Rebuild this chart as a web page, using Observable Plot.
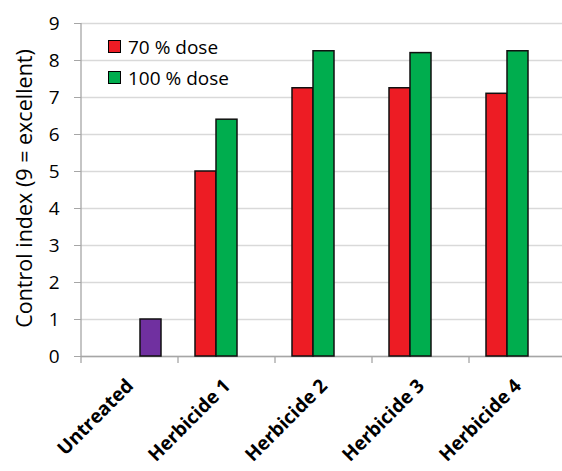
<!DOCTYPE html>
<html><head><meta charset="utf-8">
<script src="https://cdn.jsdelivr.net/npm/d3@7"></script>
<script src="https://cdn.jsdelivr.net/npm/@observablehq/plot@0.6"></script>
<style>
html,body{margin:0;padding:0;background:#fff;overflow:hidden;}
#wrap{position:relative;width:562px;height:471px;overflow:hidden;}
#legend{position:absolute;left:108px;top:31px;font-family:"Open Sans",sans-serif;font-size:19px;color:#000;}
#legend .row{display:flex;align-items:center;height:31px;}
#legend .sw{width:11px;height:11px;border:1px solid #000;margin-right:7px;}
</style></head>
<body><div id="wrap"></div>
<script>
const categories = ["Untreated", "Herbicide 1", "Herbicide 2", "Herbicide 3", "Herbicide 4"];
const series = ["70 % dose", "100 % dose", "Untreated"];
const dose70 = [null, 5.0, 7.25, 7.25, 7.1];
const dose100 = [null, 6.4, 8.25, 8.2, 8.25];
const untreatedVals = [1.0, null, null, null, null];
const colors = ["#ED1C24", "#00AD4E", "#7030A0"];
const yTicks = [0, 1, 2, 3, 4, 5, 6, 7, 8, 9];
const yLabel = "Control index (9 = excellent)";
const legendItems = ["70 % dose", "100 % dose"];

const rows = [];
categories.forEach((c, i) => {
  [dose70[i], dose100[i], untreatedVals[i]].forEach((v, j) => {
    if (v != null) rows.push({category: c, series: series[j], value: v});
  });
});

const plot = Plot.plot({
  width: 568, height: 471,
  marginLeft: 79, marginRight: 0, marginTop: 23, marginBottom: 115,
  style: {fontFamily: "'Open Sans', sans-serif", maxWidth: "none", overflow: "visible", background: "white"},
  fx: {domain: categories, padding: 0, label: null, axis: null},
  x: {domain: series, paddingInner: 0, paddingOuter: 0.75, axis: null},
  y: {domain: [0, 9]},
  color: {domain: series, range: colors},
  marks: [
    Plot.gridY(yTicks, {stroke: "#d9d9d9", strokeOpacity: 1, strokeWidth: 1.3}),
    Plot.ruleY([0], {stroke: "#a6a6a6", strokeWidth: 1.3}),
    Plot.barY(rows, {fx: "category", x: "series", y: "value", fill: "series", stroke: "#111", strokeWidth: 1.5}),
    Plot.axisY(yTicks, {tickSize: 7, tickPadding: 15, fontSize: 19, stroke: "#a6a6a6", label: null})
  ]
});

const wrap = document.getElementById("wrap");
wrap.appendChild(plot);

// axis lines, category ticks and labels, y label via the plot's scales
const svg = d3.select(plot.tagName.toLowerCase() === "svg" ? plot : plot.querySelector("svg"));
const fxS = plot.scale("fx");
const yS = plot.scale("y");
const y0 = yS.apply(0), y9 = yS.apply(9);
const bw = fxS.bandwidth;
const left = fxS.apply(categories[0]);
const g = svg.append("g");
g.append("line").attr("x1", left).attr("x2", left).attr("y1", y9).attr("y2", y0)
  .attr("stroke", "#a6a6a6").attr("stroke-width", 1.3);
categories.forEach(c => {
  const xb = fxS.apply(c);
  g.append("line").attr("x1", xb).attr("x2", xb).attr("y1", y0).attr("y2", y0 + 7)
    .attr("stroke", "#a6a6a6").attr("stroke-width", 1.3);
  g.append("text")
    .attr("transform", `translate(${xb + bw / 2 + 5},${y0 + 31}) rotate(-45)`)
    .attr("text-anchor", "end")
    .attr("font-family", "'Open Sans', sans-serif").attr("font-size", 19).attr("font-weight", "bold").attr("fill", "#000")
    .text(c);
});
g.append("text")
  .attr("transform", `translate(26,${(y0 + y9) / 2 - 1}) rotate(-90)`)
  .attr("text-anchor", "middle").attr("dominant-baseline", "middle")
  .attr("font-family", "'Open Sans', sans-serif").attr("font-size", 21.5).attr("fill", "#000")
  .text(yLabel);

// legend
const lg = document.createElement("div");
lg.id = "legend";
legendItems.forEach((s, i) => {
  const row = document.createElement("div"); row.className = "row";
  const sw = document.createElement("div"); sw.className = "sw"; sw.style.background = colors[series.indexOf(s)];
  const t = document.createElement("span"); t.textContent = s;
  row.appendChild(sw); row.appendChild(t); lg.appendChild(row);
});
wrap.appendChild(lg);
</script>
</body></html>
